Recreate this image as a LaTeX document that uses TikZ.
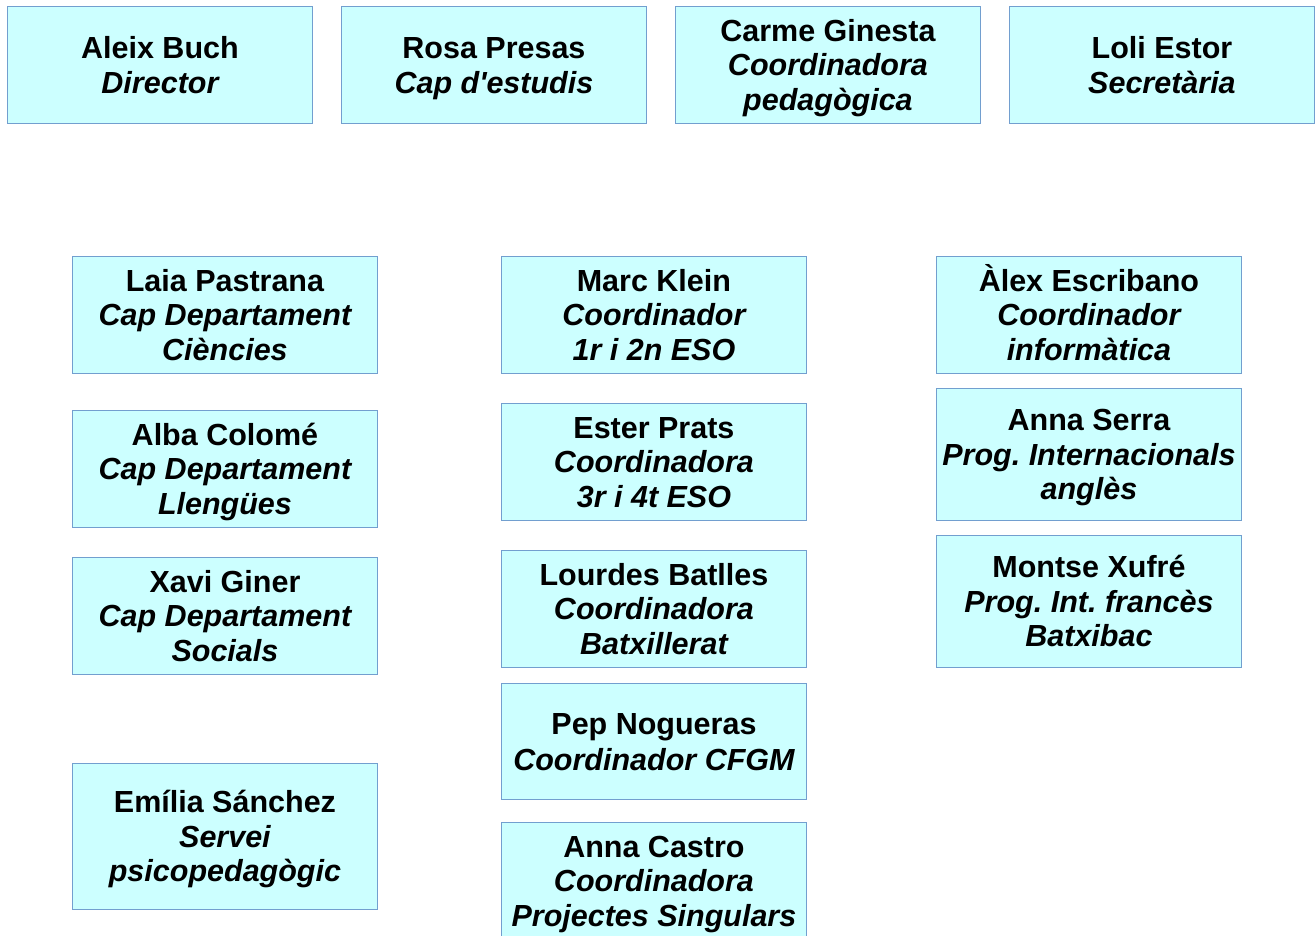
\documentclass[tikz,border=0pt]{standalone}
\usepackage{fontspec}
\setmainfont{Liberation Sans}[Ligatures=TeXOff]
\definecolor{boxfill}{HTML}{CCFFFF}
\definecolor{boxline}{HTML}{729FCF}
\frenchspacing
\newcommand{\lstrut}{\rule[-6.35pt]{0pt}{34.5pt}}
\begin{document}
\begin{tikzpicture}[x=1pt,y=-1pt,
  person/.style={draw=boxline, fill=boxfill, line width=0.9pt, minimum width=305pt, minimum height=117pt,
     inner sep=0pt, align=center, font=\fontsize{30.5pt}{34.5pt}\selectfont\bfseries\frenchspacing, anchor=north west}]
\useasboundingbox (0,0) rectangle (1315,935);
% top row
\node[person] (aleix) at (7,6) {\lstrut Aleix Buch\\\itshape\lstrut Director};
\node[person] (rosa) at (341,6) {\lstrut Rosa Presas\\\itshape\lstrut Cap d'estudis};
\node[person] (carme) at (675,6) {\lstrut Carme Ginesta\\\itshape\lstrut Coordinadora\\\itshape\lstrut pedagògica};
\node[person] (loli) at (1009,6) {\lstrut Loli Estor\\\itshape\lstrut Secretària};
% column 1
\node[person] (laia) at (72,256) {\lstrut Laia Pastrana\\\itshape\lstrut Cap Departament\\\itshape\lstrut Ciències};
\node[person] (alba) at (72,410) {\lstrut Alba Colomé\\\itshape\lstrut Cap Departament\\\itshape\lstrut Llengües};
\node[person] (xavi) at (72,557) {\lstrut Xavi Giner\\\itshape\lstrut Cap Departament\\\itshape\lstrut Socials};
\node[person, minimum height=146pt] (emilia) at (72,763) {\lstrut Emília Sánchez\\\itshape\lstrut Servei\\\itshape\lstrut psicopedagògic};
% column 2
\node[person] (marc) at (501,256) {\lstrut Marc Klein\\\itshape\lstrut Coordinador\\\itshape\lstrut 1r i 2n ESO};
\node[person] (ester) at (501,403) {\lstrut Ester Prats\\\itshape\lstrut Coordinadora\\\itshape\lstrut 3r i 4t ESO};
\node[person] (lourdes) at (501,550) {\lstrut Lourdes Batlles\\\itshape\lstrut Coordinadora\\\itshape\lstrut Batxillerat};
\node[person, minimum height=116pt] (pep) at (501,683) {\lstrut Pep Nogueras\\\itshape\lstrut Coordinador CFGM};
\node[person] (castro) at (501,822) {\lstrut Anna Castro\\\itshape\lstrut Coordinadora\\\itshape\lstrut Projectes Singulars};
% column 3
\node[person] (alex) at (936,256) {\lstrut Àlex Escribano\\\itshape\lstrut Coordinador\\\itshape\lstrut informàtica};
\node[person, minimum height=132pt] (serra) at (936,388) {\lstrut Anna Serra\\\itshape\lstrut Prog. Internacionals\\\itshape\lstrut anglès};
\node[person, minimum height=132pt] (montse) at (936,535) {\lstrut Montse Xufré\\\itshape\lstrut Prog. Int. francès\\\itshape\lstrut Batxibac};
\end{tikzpicture}
\end{document}
